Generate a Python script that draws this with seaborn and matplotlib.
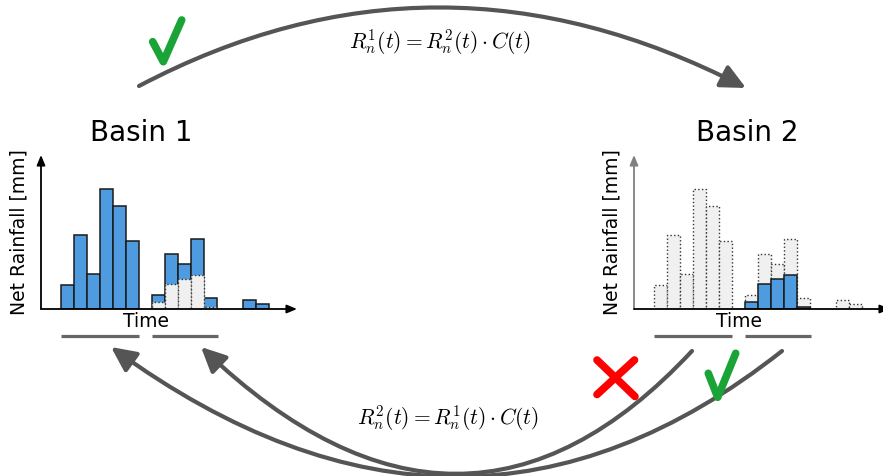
import matplotlib.pyplot as plt
import pandas as pd
import seaborn as sns
from matplotlib.patches import FancyArrowPatch
from matplotlib.path import Path

# Rainfall per time slot (bar heights, same units in both basins)
slots = list(range(16))
total_rain = [24, 74, 35, 120, 103, 68, 0, 14, 55, 45, 70, 11, 0, 0, 9, 5]
shared_rain = [0, 0, 0, 0, 0, 0, 0, 7, 25, 30, 34, 2, 0, 0, 0, 0]

titles = ["Basin 1", "Basin 2"]
top_formula = r"$R_n^1(t) = R_n^2(t) \cdot C(t)$"
bottom_formula = r"$R_n^2(t) = R_n^1(t) \cdot C(t)$"

BLUE = "#4f9be0"
GREY_FILL = "#f0f0f0"
ARROW = "#555555"

df = pd.DataFrame({"slot": slots, "total": total_rain, "shared": shared_rain})
df_total = df[df["total"] > 0]
df_shared = df[df["shared"] > 0]

sns.set_style("white")
plt.rcParams["font.family"] = ["DejaVu Sans"]
plt.rcParams["mathtext.fontset"] = "cm"
plt.rcParams["text.color"] = "black"

W, H = 883, 476
fig = plt.figure(figsize=(W / 100, H / 100), dpi=100)

# overlay in pixel coordinates for the diagram parts
ov = fig.add_axes([0, 0, 1, 1])
ov.set_xlim(0, W)
ov.set_ylim(H, 0)
ov.axis("off")


def basin_axes(x0):
    # x0 = pixel position of the y axis, baseline at 309, top at 155
    ax = fig.add_axes([x0 / W, (H - 309) / H, 256 / W, 154 / H])
    ax.set_facecolor("none")
    return ax


# Basin 1: all blue, with the shared part shown grey
ax1 = basin_axes(41)
sns.barplot(data=df_total, x="slot", y="total", native_scale=True, width=1.0,
            color=BLUE, saturation=1, edgecolor="#1a1a1a", linewidth=1.1,
            errorbar=None, ax=ax1)
sns.barplot(data=df_shared, x="slot", y="shared", native_scale=True, width=1.0,
            color=GREY_FILL, saturation=1, edgecolor="#333333", linewidth=1.0,
            linestyle=":", errorbar=None, ax=ax1)

# Basin 2: grey totals, blue only where it is shared
ax2 = basin_axes(634)
sns.barplot(data=df_total, x="slot", y="total", native_scale=True, width=1.0,
            color=GREY_FILL, saturation=1, edgecolor="#333333", linewidth=1.0,
            linestyle=":", errorbar=None, ax=ax2)
sns.barplot(data=df_shared, x="slot", y="shared", native_scale=True, width=1.0,
            color=BLUE, saturation=1, edgecolor="#1a1a1a", linewidth=1.1,
            errorbar=None, ax=ax2)

for ax, ycol in [(ax1, "black"), (ax2, "#808080")]:
    ax.set_xlim(-2.0, 17.69)
    ax.set_ylim(0, 154)
    ax.axis("off")
    ax.annotate("", xy=(0, 1), xytext=(0, 0), xycoords="axes fraction",
                arrowprops=dict(arrowstyle="-|>,head_length=0.6,head_width=0.25",
                                color=ycol, lw=1.3, mutation_scale=10,
                                shrinkA=0, shrinkB=0), annotation_clip=False)
    ax.annotate("", xy=(1, 0), xytext=(0, 0), xycoords="axes fraction",
                arrowprops=dict(arrowstyle="-|>,head_length=0.6,head_width=0.25",
                                color="black", lw=1.3, mutation_scale=10,
                                shrinkA=0, shrinkB=0), annotation_clip=False)
    ax.text(-0.085, 0.5, "Net Rainfall [mm]", transform=ax.transAxes,
            rotation=90, ha="center", va="center", fontsize=13.5)
    ax.text(0.41, -0.08, "Time", transform=ax.transAxes,
            ha="center", va="center", fontsize=13.5)
    # grouping bars under the time axis
    for a, b in [(-0.5, 5.5), (6.5, 11.6)]:
        ax.plot([a, b], [-27, -27], color="#666666", lw=2.3, clip_on=False,
                solid_capstyle="butt")

ov.text(141, 133, titles[0], ha="center", va="center", fontsize=20)
ov.text(747, 133, titles[1], ha="center", va="center", fontsize=20)


def curve(p0, c, p1):
    path = Path([p0, c, p1], [Path.MOVETO, Path.CURVE3, Path.CURVE3])
    arr = FancyArrowPatch(path=path,
                          arrowstyle="-|>,head_length=0.75,head_width=0.36",
                          mutation_scale=20, color=ARROW, lw=3,
                          transform=ov.transData, zorder=3)
    ov.add_patch(arr)


curve((139, 86), (437, -71), (746, 88))
curve((692, 351), (463, 597), (201, 347))
curve((782, 351), (463, 603), (111, 347))

ov.text(440, 42, top_formula, ha="center", va="center", fontsize=15.5)
ov.text(448, 418, bottom_formula, ha="center", va="center", fontsize=15.5)

# check marks and cross
ov.plot([152.7, 163.3, 181.7], [41.7, 61.7, 20], color="#1aa336", lw=5.5,
        solid_capstyle="round", solid_joinstyle="round", zorder=4)
ov.plot([708.3, 717.7, 735.7], [373.3, 397.3, 353.3], color="#1aa336", lw=5.5,
        solid_capstyle="round", solid_joinstyle="round", zorder=4)
ov.plot([597, 635], [360, 396.5], color="#ff0000", lw=5.5,
        solid_capstyle="round", zorder=4)
ov.plot([634.5, 597], [360, 394.5], color="#ff0000", lw=5.5,
        solid_capstyle="round", zorder=4)

fig.savefig("out.png", dpi=100)
